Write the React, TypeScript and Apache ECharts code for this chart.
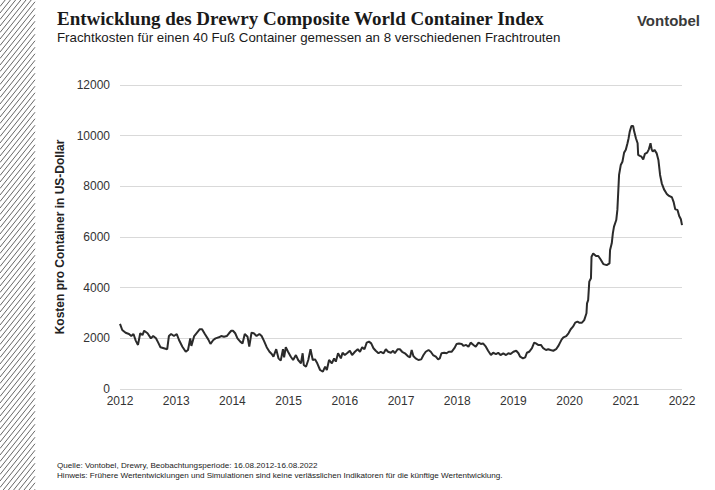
import React, { useEffect, useRef } from "react";
import * as echarts from "echarts";

const years: number[] = [
  2012.0, 2012.04, 2012.1, 2012.16, 2012.2, 2012.24, 2012.28, 2012.32, 2012.36, 2012.4, 2012.43, 2012.49, 2012.55, 2012.59, 2012.64, 2012.68, 2012.72, 2012.78, 2012.84, 2012.87, 2012.91, 2012.96,
  2013.01, 2013.05, 2013.11, 2013.17, 2013.21, 2013.25, 2013.27, 2013.32, 2013.36, 2013.42, 2013.46, 2013.51, 2013.57, 2013.61, 2013.66, 2013.7, 2013.76, 2013.8, 2013.85, 2013.9, 2013.94, 2013.98,
  2014.01, 2014.05, 2014.09, 2014.14, 2014.18, 2014.22, 2014.27, 2014.3, 2014.34, 2014.38, 2014.43, 2014.48, 2014.52, 2014.56, 2014.61, 2014.66, 2014.7, 2014.73, 2014.78, 2014.82, 2014.86, 2014.9, 2014.92, 2014.95, 2014.99,
  2015.04, 2015.08, 2015.13, 2015.17, 2015.22, 2015.25, 2015.27, 2015.31, 2015.35, 2015.39, 2015.43, 2015.47, 2015.51, 2015.56, 2015.61, 2015.65, 2015.68, 2015.72, 2015.77, 2015.81, 2015.84, 2015.88, 2015.93, 2015.96,
  2016.0, 2016.05, 2016.09, 2016.13, 2016.18, 2016.23, 2016.27, 2016.31, 2016.35, 2016.39, 2016.43, 2016.47, 2016.51, 2016.55, 2016.6, 2016.64, 2016.69, 2016.73, 2016.77, 2016.82, 2016.86, 2016.89, 2016.94, 2016.98,
  2017.02, 2017.07, 2017.12, 2017.16, 2017.19, 2017.22, 2017.26, 2017.31, 2017.36, 2017.4, 2017.44, 2017.49, 2017.53, 2017.57, 2017.62, 2017.66, 2017.69, 2017.72, 2017.77, 2017.81, 2017.85, 2017.9, 2017.95, 2017.99,
  2018.03, 2018.08, 2018.11, 2018.16, 2018.2, 2018.24, 2018.29, 2018.33, 2018.38, 2018.42, 2018.46, 2018.51, 2018.55, 2018.6, 2018.64, 2018.69, 2018.73, 2018.77, 2018.82, 2018.87, 2018.91, 2018.95,
  2019.0, 2019.05, 2019.09, 2019.12, 2019.17, 2019.21, 2019.24, 2019.28, 2019.33, 2019.37, 2019.4, 2019.44, 2019.49, 2019.53, 2019.58, 2019.62, 2019.66, 2019.71, 2019.76, 2019.8, 2019.83, 2019.86, 2019.89, 2019.94, 2019.98,
  2020.02, 2020.06, 2020.1, 2020.14, 2020.17, 2020.22, 2020.26, 2020.3, 2020.31, 2020.33, 2020.35, 2020.38, 2020.39, 2020.42, 2020.47, 2020.51, 2020.55, 2020.6, 2020.66, 2020.71, 2020.72, 2020.75, 2020.77, 2020.79, 2020.83, 2020.85, 2020.87, 2020.88, 2020.91, 2020.94, 2020.97,
  2021.0, 2021.03, 2021.05, 2021.07, 2021.1, 2021.13, 2021.15, 2021.18, 2021.21, 2021.22, 2021.25, 2021.28, 2021.31, 2021.34, 2021.38, 2021.41, 2021.44, 2021.46, 2021.48, 2021.51, 2021.55, 2021.58, 2021.61, 2021.64, 2021.68, 2021.73, 2021.77, 2021.82, 2021.85, 2021.88, 2021.92, 2021.95, 2021.98, 2022.0,
];

const costs: number[] = [
  2570, 2330, 2220, 2170, 2090, 2170, 1910, 1740, 2200, 2130, 2300, 2200, 2000, 2090, 2000, 1830, 1650, 1610, 1570, 2090, 2170, 2090,
  2170, 1935, 1670, 1470, 1540, 2000, 1700, 2090, 2200, 2360, 2360, 2170, 1960, 1780, 1935, 2000, 2040, 2090, 2060, 2090, 2200, 2300,
  2300, 2200, 2000, 1870, 1800, 2170, 2060, 1670, 2220, 2200, 2090, 2170, 2090, 1910, 1650, 1470, 1380, 1275, 1570, 1210, 1120, 1570, 1250, 1650, 1470,
  1275, 1145, 1340, 1145, 1015, 1410, 950, 880, 1145, 1570, 1145, 1170, 1015, 750, 685, 880, 750, 1145, 1015, 1210, 1080, 1410, 1210, 1430,
  1340, 1430, 1510, 1340, 1470, 1570, 1470, 1650, 1570, 1830, 1870, 1800, 1610, 1510, 1410, 1470, 1410, 1570, 1470, 1430, 1510, 1410, 1570, 1570,
  1470, 1410, 1300, 1250, 1540, 1300, 1210, 1145, 1170, 1340, 1470, 1540, 1470, 1340, 1275, 1170, 1210, 1410, 1430, 1410, 1470, 1470, 1610, 1780,
  1800, 1780, 1700, 1740, 1670, 1830, 1740, 1670, 1830, 1780, 1800, 1670, 1510, 1340, 1430, 1380, 1430, 1340, 1410, 1340, 1410, 1380,
  1470, 1510, 1410, 1275, 1210, 1250, 1430, 1470, 1610, 1830, 1800, 1740, 1740, 1610, 1540, 1570, 1540, 1510, 1570, 1700, 1830, 1960, 2040, 2090, 2200,
  2360, 2460, 2620, 2660, 2620, 2620, 2720, 2990, 3380, 3510, 4240, 4370, 5220, 5350, 5250, 5250, 5120, 4930, 4890, 4960, 5490, 5750, 6150, 6410, 6670, 7070, 7990, 8450, 8840, 8970, 9330,
  9440, 9700, 9900, 10160, 10380, 10380, 10160, 9900, 9700, 9240, 9200, 9170, 9060, 9280, 9330, 9460, 9700, 9460, 9370, 9440, 9300, 9040, 8450, 8120, 7880, 7700, 7620, 7570, 7390, 7090, 7070, 6830, 6700, 6470,
];

const yearTicks = ["2012", "2013", "2014", "2015", "2016", "2017", "2018", "2019", "2020", "2021", "2022"];

const TITLE = "Entwicklung des Drewry Composite World Container Index";
const SUBTITLE = "Frachtkosten für einen 40 Fuß Container gemessen an 8 verschiedenen Frachtrouten";
const SOURCE = "Quelle: Vontobel, Drewry, Beobachtungsperiode: 16.08.2012-16.08.2022";
const NOTE = "Hinweis: Frühere Wertentwicklungen und Simulationen sind keine verlässlichen Indikatoren für die künftige Wertentwicklung.";
const Y_NAME = "Kosten pro Container in US-Dollar";

export default function App() {
  const ref = useRef<HTMLDivElement>(null);
  useEffect(() => {
    if (!ref.current) return;
    const chart = echarts.init(ref.current, undefined, { renderer: "svg" });
    const sans = "'Liberation Sans', Arial, sans-serif";

    const hatch: any[] = [];
    const W = 35;
    const H = 490;
    const k = 1.25;
    for (let c = 0; c < W + H / k + 10; c += 5.2) {
      const x1 = Math.max(0, c - H / k);
      const x2 = Math.min(W, c);
      if (x2 <= x1) continue;
      hatch.push({
        type: "line",
        shape: { x1, y1: (c - x1) * k, x2, y2: (c - x2) * k },
        style: { stroke: "#666", lineWidth: 1 },
        silent: true,
      });
    }

    chart.setOption({
      animation: false,
      backgroundColor: "#ffffff",
      grid: { left: 120, right: 33, top: 85, bottom: 101, containLabel: false },
      xAxis: {
        type: "value",
        min: 2012,
        max: 2022,
        interval: 1,
        axisLine: { show: false },
        axisTick: { show: false },
        splitLine: { show: false },
        axisLabel: {
          color: "#333",
          fontFamily: sans,
          fontSize: 12,
          margin: 6,
          formatter: (v: number) => yearTicks[Math.round(v) - 2012] ?? "",
        },
      },
      yAxis: {
        type: "value",
        min: 0,
        max: 12000,
        interval: 2000,
        name: Y_NAME,
        nameLocation: "middle",
        nameGap: 52,
        nameTextStyle: { color: "#222", fontFamily: sans, fontSize: 12, fontWeight: "bold" },
        axisLine: { show: false },
        axisTick: { show: false },
        axisLabel: { color: "#333", fontFamily: sans, fontSize: 12, margin: 10, formatter: (v: number) => String(v) },
        splitLine: { lineStyle: { color: "#d9d9d9", width: 1 } },
      },
      series: [
        {
          type: "line",
          data: years.map((y, i) => [y, costs[i]]),
          showSymbol: false,
          lineStyle: { color: "#2b2b2b", width: 2 },
          itemStyle: { color: "#2b2b2b" },
        },
      ],
      graphic: [
        ...hatch,
        {
          type: "text",
          x: 57,
          y: 18,
          style: { text: TITLE, font: "bold 19px 'Liberation Serif', 'Times New Roman', serif", fill: "#1a1a1a", verticalAlign: "middle" },
        },
        {
          type: "text",
          x: 57,
          y: 37,
          style: { text: SUBTITLE, font: "13.3px " + sans, fill: "#1a1a1a", verticalAlign: "middle" },
        },
        {
          type: "text",
          x: 700,
          y: 20,
          style: { text: "Vontobel", font: "bold 15px " + sans, fill: "#3a3a3a", align: "right", verticalAlign: "middle" },
        },
        {
          type: "text",
          x: 57,
          y: 465,
          style: { text: SOURCE, font: "8.1px " + sans, fill: "#1a1a1a", verticalAlign: "middle" },
        },
        {
          type: "text",
          x: 57,
          y: 475,
          style: { text: NOTE, font: "8.1px " + sans, fill: "#1a1a1a", verticalAlign: "middle" },
        },
      ],
    });
    return () => chart.dispose();
  }, []);
  return <div ref={ref} style={{ position: "fixed", left: 0, top: 0, width: 715, height: 490 }} />;
}
